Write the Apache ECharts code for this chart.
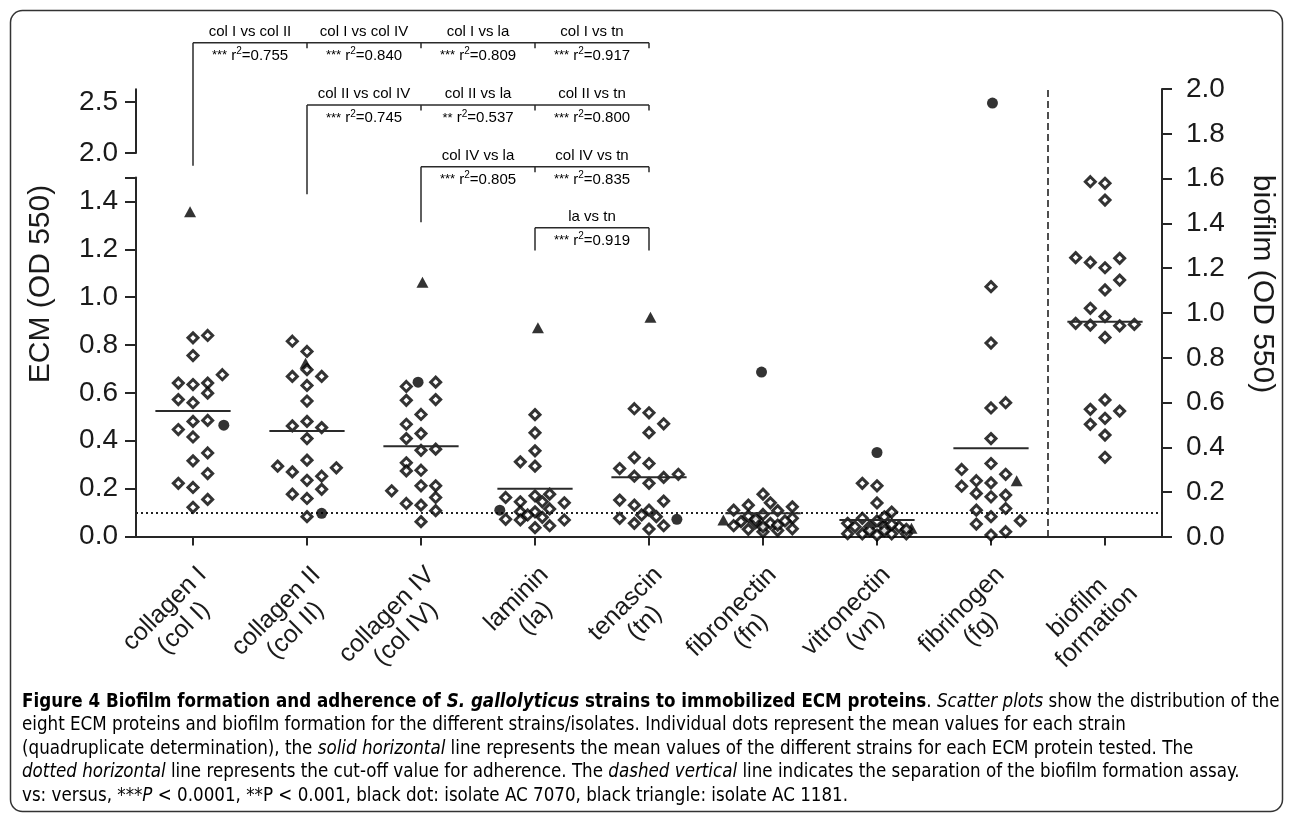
<!DOCTYPE html>
<html><head><meta charset="utf-8">
<script src="https://cdn.jsdelivr.net/npm/echarts@6/dist/echarts.min.js"></script>
<style>html,body{margin:0;padding:0;background:#fff}#c{width:1293px;height:819px}</style>
</head><body><div id="c"></div>
<script>
// ---------------- data ----------------
const categoryLines = [
  ['collagen I', '(col I)'], ['collagen II', '(col II)'], ['collagen IV', '(col IV)'],
  ['laminin', '(la)'], ['tenascin', '(tn)'], ['fibronectin', '(fn)'],
  ['vitronectin', '(vn)'], ['fibrinogen', '(fg)'], ['biofilm', 'formation']
];
// ECM adherence (OD 550), open diamonds; *_col = swarm column of each point
const colI_v  = [0.830,0.840,0.756,0.676,0.641,0.635,0.641,0.599,0.572,0.559,0.481,0.485,0.447,0.416,0.349,0.316,0.263,0.222,0.205,0.155,0.122];
const colI_col= [0,1,0,2,-1,0,1,1,-1,0,0,1,-1,0,1,0,1,-1,0,1,0];
const colII_v = [0.816,0.773,0.697,0.669,0.669,0.631,0.566,0.481,0.462,0.455,0.409,0.319,0.294,0.287,0.270,0.252,0.235,0.197,0.177,0.159,0.083];
const colII_col=[-1,0,0,-1,1,0,0,0,-1,1,0,0,-2,2,-1,1,0,1,-1,0,0];
const colIV_v = [0.627,0.645,0.569,0.572,0.510,0.469,0.430,0.409,0.360,0.365,0.308,0.274,0.277,0.191,0.212,0.212,0.163,0.138,0.131,0.108,0.062];
const colIV_col=[-1,1,-1,1,0,-1,0,-1,0,1,-1,-1,0,-2,0,1,1,-1,0,1,0];
const la_v    = [0.509,0.433,0.358,0.312,0.294,0.163,0.145,0.170,0.177,0.145,0.141,0.103,0.103,0.115,0.090,0.080,0.072,0.069,0.069,0.037,0.045];
const la_col  = [0,0,0,-1,0,-2,-1,0,1,0.5,2,-1,0,1,-0.5,0.5,-2,-1,2,0,1];
const tn_v    = [0.534,0.517,0.471,0.434,0.330,0.305,0.284,0.252,0.247,0.260,0.222,0.152,0.148,0.131,0.110,0.090,0.083,0.076,0.055,0.045,0.031];
const tn_col  = [-1,0,1,0,-1,0,-2,-1,1,2,0,-2,1,-1,0,-0.5,0.5,-2,-1,1,0];
const fn_v    = [0.177,0.141,0.131,0.124,0.110,0.108,0.092,0.085,0.076,0.065,0.062,0.058,0.055,0.072,0.030,0.020,0.025,0.032,0.045,0.040,0.048];
const fn_col  = [0,0.5,-1,2,-2,1,0,-1,2,1.5,-1.5,-0.5,0.5,-0.5,-1,0,1,2,-2,0,1];
const vn_v    = [0.222,0.212,0.140,0.102,0.076,0.065,0.055,0.041,0.041,0.043,0.041,0.012,0.011,0.006,0.011,0.011,0.050,0.025,0.025,0.082,0.030];
const vn_col  = [-1,0,0,1,-1,0,-2,-1.5,-0.5,0.5,1.5,-2,-1,0,1,2,1,-0.5,0.5,0.5,2];
const fg_v    = [1.044,0.808,0.537,0.559,0.409,0.305,0.280,0.260,0.233,0.224,0.210,0.180,0.166,0.173,0.110,0.117,0.083,0.066,0.052,0.006,0.020];
const fg_col  = [0,0,0,1,0,0,-2,1,-1,0,-2,-1,0,1,-1,1,0,2,-1,0,1];
// biofilm formation (OD 550, right axis)
const bio_v   = [1.586,1.579,1.504,1.247,1.226,1.202,1.244,1.147,1.103,1.021,0.984,0.954,0.946,0.943,0.949,0.891,0.612,0.570,0.562,0.530,0.503,0.455,0.356];
const bio_col = [-1,0,0,-2,-1,0,1,1,0,-1,0,-2,-1,1,2,0,0,-1,1,0,-1,0,0];
// isolate AC 7070 (black dot) and AC 1181 (black triangle), categories 1..8
const dot_v   = [0.465,0.097,0.645,0.110,0.072,0.687,0.351,2.49];
const dot_col = [2.1,1,-0.2,-2.4,1.9,-0.1,0,0.1];
const tri_v   = [1.357,0.724,1.062,0.872,0.916,0.069,0.034,0.233];
const tri_col = [-0.2,-0.1,0.1,0.2,0.1,-2.7,2.35,1.75];
// mean of the strains per category
const means   = [0.524,0.441,0.377,0.199,0.248,0.097,0.069,0.369,0.961];
const CUTOFF  = 0.1;
// correlation brackets
const comparisons = [
  {from:1, labels:['col I vs col II','col I vs col IV','col I vs la','col I vs tn'], sig:['***','***','***','***'], r2:['0.755','0.840','0.809','0.917']},
  {from:2, labels:['col II vs col IV','col II vs la','col II vs tn'], sig:['***','**','***'], r2:['0.745','0.537','0.800']},
  {from:3, labels:['col IV vs la','col IV vs tn'], sig:['***','***'], r2:['0.805','0.835']},
  {from:4, labels:['la vs tn'], sig:['***'], r2:['0.919']}
];
const captionLines = [
  '{b|Figure 4 Biofilm formation and adherence of }{bi|S. gallolyticus}{b| strains to immobilized ECM proteins}{n|. }{i|Scatter plots}{n| show the distribution of the}',
  '{n|eight ECM proteins and biofilm formation for the different strains/isolates. Individual dots represent the mean values for each strain}',
  '{n|(quadruplicate determination), the }{i|solid horizontal}{n| line represents the mean values of the different strains for each ECM protein tested. The}',
  '{i|dotted horizontal}{n| line represents the cut-off value for adherence. The }{i|dashed vertical}{n| line indicates the separation of the biofilm formation assay.}',
  '{n|vs: versus, ***}{i|P}{n| < 0.0001, **P < 0.001, black dot: isolate AC 7070, black triangle: isolate AC 1181.}'
];

// ---------------- layout / style ----------------
const COL = 14.67 / 114;      // swarm column width in category units
const HALF = 0.33;            // half width of mean line
const FONT = "'Liberation Sans', Arial, Helvetica, sans-serif";
const CAP_FAMILY = "'Liberation Sans Narrow','DejaVu Sans Condensed','Roboto Condensed','Liberation Sans',sans-serif";
const INK = '#1a1a1a';
const LINE = '#262626';
const MARK = '#000';

const ecmV = [colI_v, colII_v, colIV_v, la_v, tn_v, fn_v, vn_v, fg_v];
const ecmC = [colI_col, colII_col, colIV_col, la_col, tn_col, fn_col, vn_col, fg_col];
const diamonds = [];
ecmV.forEach((vals, k) => vals.forEach((v, j) => diamonds.push([k + 1 + ecmC[k][j] * COL, v])));
const bioPts = bio_v.map((v, j) => [9 + bio_col[j] * COL, v]);
const LOW_MAX = 1.5;
const dotsLow = [], dotsHigh = [];
dot_v.forEach((v, k) => (v > LOW_MAX ? dotsHigh : dotsLow).push([k + 1 + dot_col[k] * COL, v]));
const tris = tri_v.map((v, k) => [k + 1 + tri_col[k] * COL, v]);

const gLeft = 136, gRight = 1293 - 1162;
const axisCommon = {
  axisLine: {show: true, onZero: false, lineStyle: {color: LINE, width: 2}},
  splitLine: {show: false}
};
const xHidden = (gi) => ({type: 'value', gridIndex: gi, min: 0.5, max: 9.5, show: false});

const chart = echarts.init(document.getElementById('c'), null, {renderer: 'canvas'});

const meanRender = (params, api) => {
  const x = api.value(0), y = api.value(1);
  const p1 = api.coord([x - HALF, y]), p2 = api.coord([x + HALF, y]);
  return {type: 'line', shape: {x1: p1[0], y1: p1[1], x2: p2[0], y2: p2[1]}, style: {stroke: '#2a2a2a', lineWidth: 2}};
};

const ticksLow = [0,0.2,0.4,0.6,0.8,1.0,1.2,1.4];
const diamondStyle = {color: '#fff', borderColor: MARK, borderWidth: 3};

chart.setOption({
  animation: false,
  backgroundColor: '#fff',
  grid: [
    {left: gLeft, right: gRight, top: 177.5, height: 359},
    {left: gLeft, right: gRight, top: 89.25, height: 63.75},
    {left: gLeft, right: gRight, top: 89, height: 448}
  ],
  xAxis: [
    Object.assign({type: 'value', gridIndex: 0, min: 0.5, max: 9.5}, axisCommon, {
      axisTick: {show: true, length: 9, customValues: [1,2,3,4,5,6,7,8,9], lineStyle: {color: LINE, width: 2}},
      axisLabel: {
        customValues: [1,2,3,4,5,6,7,8,9], rotate: 45, align: 'right', verticalAlign: 'top', margin: 25,
        formatter: (v) => { const l = categoryLines[Math.round(v) - 1]; return '{a|' + l[0] + '}\n{a|' + l[1] + '}'; },
        rich: {a: {fontFamily: FONT, fontSize: 25, lineHeight: 27, color: INK, align: 'center'}}
      }
    }),
    xHidden(1), xHidden(2)
  ],
  yAxis: [
    Object.assign({type: 'value', gridIndex: 0, min: 0, max: LOW_MAX, position: 'left'}, axisCommon, {
      axisTick: {show: true, length: 11, customValues: ticksLow.concat([LOW_MAX]), lineStyle: {color: LINE, width: 2}},
      axisLabel: {customValues: ticksLow, margin: 18, formatter: (v) => v.toFixed(1), fontFamily: FONT, fontSize: 28, color: INK}
    }),
    Object.assign({type: 'value', gridIndex: 1, min: 2.0, max: 2.625, position: 'left'}, axisCommon, {
      axisTick: {show: true, length: 11, customValues: [2.0, 2.5], lineStyle: {color: LINE, width: 2}},
      axisLabel: {customValues: [2.0, 2.5], margin: 18, formatter: (v) => v.toFixed(1), fontFamily: FONT, fontSize: 28, color: INK}
    }),
    Object.assign({type: 'value', gridIndex: 2, min: 0, max: 2.0, interval: 0.2, position: 'right'}, axisCommon, {
      axisTick: {show: true, length: 10, lineStyle: {color: LINE, width: 2}},
      axisLabel: {margin: 24, formatter: (v) => v.toFixed(1), fontFamily: FONT, fontSize: 28, color: INK}
    })
  ],
  series: [
    {name: 'AC 1181', type: 'scatter', xAxisIndex: 0, yAxisIndex: 0, data: tris, symbol: 'triangle', symbolSize: [12, 11],
     itemStyle: {color: MARK}, z: 2, silent: true},
    {name: 'strains', type: 'scatter', xAxisIndex: 0, yAxisIndex: 0, data: diamonds, symbol: 'diamond', symbolSize: 10,
     itemStyle: diamondStyle, z: 3, silent: true,
     markLine: {silent: true, symbol: 'none', z: 1, label: {show: false},
       lineStyle: {type: [2, 3], color: '#222', width: 2}, data: [{yAxis: CUTOFF}]}},
    {name: 'AC 7070', type: 'scatter', xAxisIndex: 0, yAxisIndex: 0, data: dotsLow, symbol: 'circle', symbolSize: 11,
     itemStyle: {color: MARK}, z: 4, silent: true},
    {name: 'AC 7070 high', type: 'scatter', xAxisIndex: 1, yAxisIndex: 1, data: dotsHigh, symbol: 'circle', symbolSize: 11,
     itemStyle: {color: MARK}, z: 4, silent: true},
    {name: 'biofilm', type: 'scatter', xAxisIndex: 2, yAxisIndex: 2, data: bioPts, symbol: 'diamond', symbolSize: 10,
     itemStyle: diamondStyle, z: 3, silent: true,
     markLine: {silent: true, symbol: 'none', z: 1, label: {show: false},
       lineStyle: {type: [7, 4], color: '#222', width: 1.6}, data: [{xAxis: 8.5}]}},
    {name: 'mean', type: 'custom', xAxisIndex: 0, yAxisIndex: 0, renderItem: meanRender, z: 5, silent: true,
     data: means.slice(0, 8).map((m, i) => [i + 1, m])},
    {name: 'mean biofilm', type: 'custom', xAxisIndex: 2, yAxisIndex: 2, renderItem: meanRender, z: 5, silent: true,
     data: [[9, means[8]]]}
  ]
});

// ---------------- annotations (graphic) ----------------
const px = (c) => chart.convertToPixel({xAxisIndex: 0}, c);
const rowY = [42.7, 105, 166.7, 227.7];
const rowDrop = [165.7, 194.3, 222.3, 250.5];
const g = [];
const stroke = {stroke: '#2a2a2a', lineWidth: 1.5};
const seg = (x1, y1, x2, y2) => g.push({type: 'line', silent: true, shape: {x1, y1, x2, y2}, style: stroke});
const txt = (x, y, text, rich) => g.push({type: 'text', silent: true, x, y,
  style: {text, rich, align: 'center', verticalAlign: 'middle', textAlign: 'center', textVerticalAlign: 'middle'}});
const richStat = {
  t: {fontFamily: FONT, fontSize: 15, color: '#222', lineHeight: 18},
  s: {fontFamily: FONT, fontSize: 13, color: '#222', lineHeight: 18},
  p: {fontFamily: FONT, fontSize: 10, color: '#222', lineHeight: 18, verticalAlign: 'top'}
};
comparisons.forEach((row, r) => {
  const y = rowY[r];
  const xs = [];
  for (let c = row.from; c <= row.from + row.labels.length; c++) xs.push(px(c));
  seg(xs[0], y, xs[xs.length - 1], y);
  seg(xs[0], y, xs[0], rowDrop[r]);
  for (let k = 1; k < xs.length; k++) {
    const last = (k === xs.length - 1);
    seg(xs[k], y, xs[k], (last && r === comparisons.length - 1) ? rowDrop[r] : y + 5.5);
    const cx = (xs[k - 1] + xs[k]) / 2;
    txt(cx, y - 11, '{t|' + row.labels[k - 1] + '}', richStat);
    txt(cx, y + 13, '{s|' + row.sig[k - 1] + '}{t| r}{p|2}{t|=' + row.r2[k - 1] + '}', richStat);
  }
});
// axis names
g.push({type: 'text', silent: true, x: 41, y: 284, rotation: Math.PI / 2,
  style: {text: 'ECM (OD 550)', fontFamily: FONT, fontSize: 30, fill: INK, align: 'center', verticalAlign: 'middle', textAlign: 'center', textVerticalAlign: 'middle'}});
g.push({type: 'text', silent: true, x: 1262, y: 284, rotation: -Math.PI / 2,
  style: {text: 'biofilm (OD 550)', fontFamily: FONT, fontSize: 30, fill: INK, align: 'center', verticalAlign: 'middle', textAlign: 'center', textVerticalAlign: 'middle'}});
// caption: choose a font size so that lines 1 and 2 end where they end in the reference
const cv = document.createElement('canvas').getContext('2d');
const tokenFont = {n: '', i: 'italic ', b: 'bold ', bi: 'italic bold '};
const richWidth = (line, size) => {
  let w = 0; const re = /\{([a-z]+)\|([^}]*)\}/g; let m;
  while ((m = re.exec(line))) { cv.font = tokenFont[m[1]] + size + 'px ' + CAP_FAMILY; w += cv.measureText(m[2]).width; }
  return w;
};
const capSize = Math.floor(Math.min(20 * 1258 / richWidth(captionLines[0], 20), 20 * 1120 / richWidth(captionLines[1], 20)) * 10) / 10;
const capRich = {
  n: {fontFamily: CAP_FAMILY, fontSize: capSize, color: '#2a2a2a'},
  i: {fontFamily: CAP_FAMILY, fontSize: capSize, color: '#2a2a2a', fontStyle: 'italic'},
  b: {fontFamily: CAP_FAMILY, fontSize: capSize, color: '#111', fontWeight: 'bold'},
  bi: {fontFamily: CAP_FAMILY, fontSize: capSize, color: '#111', fontWeight: 'bold', fontStyle: 'italic'}
};
captionLines.forEach((t, k) => g.push({type: 'text', silent: true, x: 22, y: 702 + k * 23.5,
  style: {text: t, rich: capRich, align: 'left', verticalAlign: 'middle', textAlign: 'left', textVerticalAlign: 'middle'}}));
// frame
g.push({type: 'rect', silent: true, shape: {x: 10.5, y: 10.5, width: 1272, height: 801, r: 12},
  style: {fill: 'none', stroke: '#333', lineWidth: 1.5}});
chart.setOption({graphic: {elements: g}});
</script></body></html>
